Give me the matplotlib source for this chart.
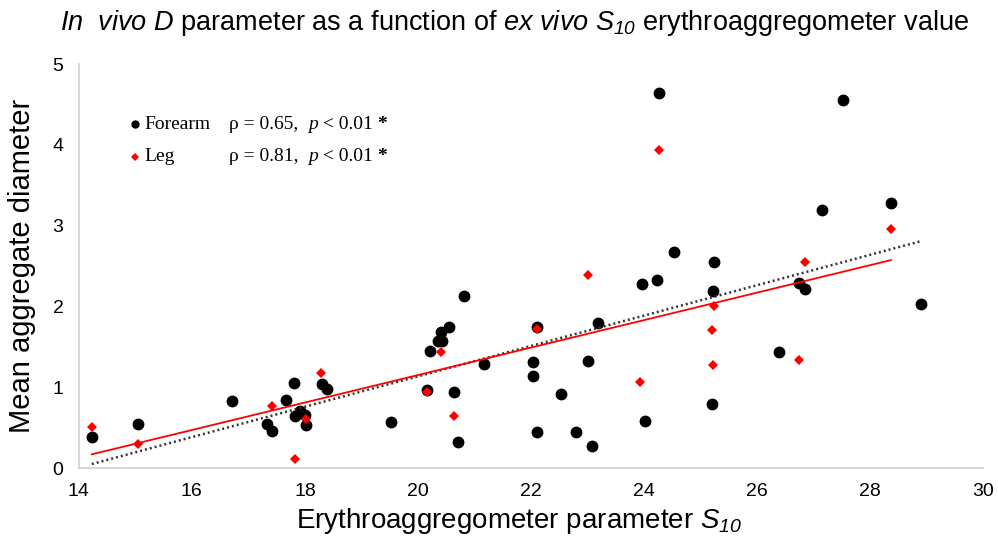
import numpy as np
import matplotlib
matplotlib.use("Agg")
import matplotlib.pyplot as plt

plt.rcParams['font.family'] = ['Liberation Sans', 'DejaVu Sans']
plt.rcParams['mathtext.fontset'] = 'custom'
plt.rcParams['mathtext.rm'] = 'Liberation Sans:italic'
plt.rcParams['mathtext.it'] = 'Liberation Sans:italic'

# Forearm (black circles)
forearm_s10 = [14.23, 15.04, 16.71, 17.33, 17.42, 17.66, 17.80, 17.82, 17.91, 18.00,
               18.02, 18.30, 18.39, 19.52, 20.16, 20.21, 20.35, 20.42, 20.41, 20.55,
               20.81, 20.64, 20.71, 21.17, 22.04, 22.04, 22.10, 22.10, 22.53, 22.80,
               23.01, 23.08, 23.19, 23.96, 24.02, 24.27, 27.52, 27.15, 28.37, 24.53,
               25.24, 24.23, 25.22, 26.74, 26.85, 28.90, 26.39, 25.20]
forearm_d = [0.38, 0.54, 0.83, 0.54, 0.46, 0.84, 1.05, 0.64, 0.71, 0.66,
             0.53, 1.04, 0.98, 0.57, 0.97, 1.45, 1.57, 1.57, 1.68, 1.74,
             2.13, 0.94, 0.32, 1.29, 1.31, 1.14, 1.74, 0.45, 0.92, 0.45,
             1.32, 0.27, 1.79, 2.28, 0.58, 4.64, 4.55, 3.19, 3.28, 2.67,
             2.55, 2.33, 2.19, 2.29, 2.22, 2.03, 1.44, 0.79]

# Leg (red diamonds)
leg_s10 = [14.23, 15.04, 17.42, 17.82, 18.02, 18.28, 20.16, 20.41, 20.64, 22.10,
           23.01, 23.93, 24.27, 25.20, 25.22, 25.24, 26.74, 26.85, 28.37]
leg_d = [0.51, 0.30, 0.77, 0.11, 0.61, 1.18, 0.94, 1.44, 0.64, 1.72,
         2.39, 1.06, 3.94, 1.71, 1.27, 2.00, 1.34, 2.55, 2.96]

# linear trendlines (slope, intercept)
forearm_fit = (0.188, -2.625)
leg_fit = (0.170, -2.249)

legend_labels = ['Forearm', 'Leg']
legend_stats = [('\u03c1 = 0.65,  ', ' < 0.01 ', '*'), ('\u03c1 = 0.81,  ', ' < 0.01 ', '*')]

fig = plt.figure(figsize=(9.98, 5.43), dpi=100)
ax = fig.add_axes([0.079, 0.138, 0.906, 0.744])

ax.plot(forearm_s10, forearm_d, 'o', color='black', markersize=7.5, linestyle='none')
ax.plot(leg_s10, leg_d, 'D', color='red', markersize=4.6, markeredgewidth=0, linestyle='none')

xf = np.array([min(forearm_s10), max(forearm_s10)])
ax.plot(xf, forearm_fit[0] * xf + forearm_fit[1], color='#333333', lw=1.8,
        linestyle=(0, (0.8, 1.2)))
xl = np.array([min(leg_s10), max(leg_s10)])
ax.plot(xl, leg_fit[0] * xl + leg_fit[1], color='red', lw=1.3)

ax.set_xlim(14, 30)
ax.set_ylim(0, 5)
ax.set_xticks(range(14, 31, 2))
ax.set_yticks(range(0, 6))
ax.tick_params(length=0, labelsize=14, pad=11)
for s in ['top', 'right']:
    ax.spines[s].set_visible(False)
for s in ['left', 'bottom']:
    ax.spines[s].set_color('#d0d0d0')
    ax.spines[s].set_linewidth(1.2)

ax.set_ylabel('Mean aggregate diameter', fontsize=21, labelpad=12)
ax.set_xlabel(r'Erythroaggregometer parameter $S_{10}$', fontsize=20, labelpad=4)
ax.xaxis.label.set_x(0.487)
fig.text(0.516, 0.958,
         r'$In\ \ vivo\ D$ parameter as a function of $ex\ vivo\ S_{10}$ erythroaggregometer value',
         ha='center', va='center', fontsize=19.5)

# legend drawn by hand
serif = ['Liberation Serif', 'DejaVu Serif']
legend_y = [0.851, 0.770]
markers = [('o', 'black', 6), ('D', 'red', 4.2)]
for lab, st, yy, mk in zip(legend_labels, legend_stats, legend_y, markers):
    ax.plot([0.062], [yy], mk[0], color=mk[1], markersize=mk[2], markeredgewidth=0,
            transform=ax.transAxes, clip_on=False)
    ax.text(0.073, yy, lab, transform=ax.transAxes, family=serif, fontsize=14,
            va='center', ha='left')
    t1 = ax.text(0.166, yy, st[0], transform=ax.transAxes, family=serif, fontsize=14,
                 va='center', ha='left')
    t2 = ax.annotate('p', xy=(1, 0), xycoords=t1, va='bottom', ha='left',
                     family=serif, fontsize=14, style='italic')
    t3 = ax.annotate(st[1], xy=(1, 0), xycoords=t2, va='bottom', ha='left',
                     family=serif, fontsize=14)
    ax.annotate(st[2], xy=(1, 0), xycoords=t3, va='bottom', ha='left',
                family=serif, fontsize=14, weight='bold')

fig.savefig('out.png', dpi=100)
